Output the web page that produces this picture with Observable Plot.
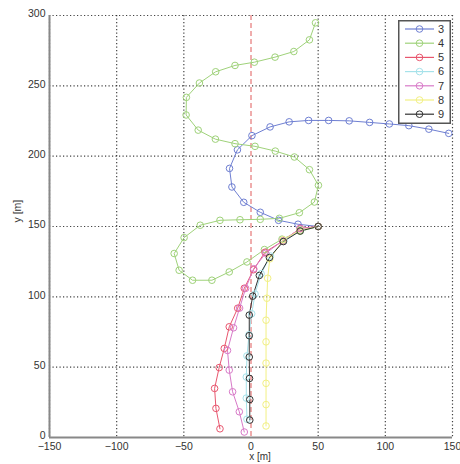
<!DOCTYPE html>
<html>
<head>
<meta charset="utf-8">
<script src="https://cdn.jsdelivr.net/npm/d3@7"></script>
<script src="https://cdn.jsdelivr.net/npm/@observablehq/plot@0.6"></script>
<style>
  html, body { margin: 0; padding: 0; background: #fff; }
  #wrap { position: relative; width: 460px; height: 464px; font-family: "Liberation Sans", Arial, sans-serif; }
  #legend { position: absolute; left: 398px; top: 20px; }
</style>
</head>
<body>
<div id="wrap"><div id="chart"></div><div id="legend"></div></div>
<script>
const seriesNames = ["3", "4", "5", "6", "7", "8", "9"];
const seriesColors = ["#6f7fd2", "#9fd27a", "#e8566e", "#a6e2ea", "#d87ac8", "#f2f083", "#333333"];

const x3 = [50, 35, 20.5, 6.9, -5.4, -14.2, -16, -10.1, 0.7, 14.2, 28.4, 42.9, 57.8, 73.1, 88.3, 103, 117.5, 132.4, 147.2];
const y3 = [150, 151.6, 154.4, 160.1, 167.2, 178.1, 191.3, 204.5, 214.6, 220.8, 224.4, 225.4, 225.4, 225.1, 224, 222.9, 221.7, 219.2, 216.2];

const x4 = [50, 36.6, 23.1, 10, -3, -16.2, -29.1, -43.5, -53.5, -57.2, -49.8, -37.8, -23.1, -8.2, 6.9, 21.1, 36, 47.2, 50.2, 43.5, 32.3, 18.1, 3, -11.9, -26.5, -39.3, -48.3, -48.1, -38.4, -26.3, -11.9, 2.5, 17.9, 31.9, 43.5, 48];
const y4 = [150, 146.6, 141, 133.6, 124.8, 117.7, 111.8, 111.8, 118.9, 130.8, 142.1, 150.9, 154.4, 154.8, 155.1, 155.8, 159.8, 167.4, 179.3, 190.4, 199.4, 203.6, 207, 208.9, 212.1, 218.5, 229.3, 241.8, 252, 260, 264.5, 266.8, 270.4, 274.4, 282.7, 294.8];

const x5 = [50, 36.6, 23.7, 10.4, 1.9, -5, -9.9, -16.2, -19.9, -23.7, -27.1, -26.1, -23.1];
const y5 = [150, 148.7, 139.7, 131.7, 119.3, 106.1, 91.9, 78.7, 63.3, 49.7, 34.9, 20.7, 6.2];

const x6 = [50, 37, 24.5, 14.5, 7.5, 3, 0.5, -1.5, -3, -3.5, -3.5, -3];
const y6 = [150, 147.5, 140, 129, 116.5, 102, 88, 73, 58, 43, 28, 13];

const x7 = [50, 36.6, 23.7, 11, 2, -4, -8.5, -13, -17.5, -16.2, -13.7, -8.7, -5];
const y7 = [150, 148.5, 140, 131, 120, 106, 92, 78, 61.9, 47.9, 32.5, 18.3, 3.9];

const x8 = [50, 36.6, 24, 14, 12.4, 11.8, 11.2, 11.2, 11.2, 11.2, 11.2, 11.2];
const y8 = [150, 147.5, 140.5, 127, 113.2, 99, 83.4, 68, 52.9, 38.5, 23.4, 8.2];

const x9 = [50, 36.6, 24.1, 13.7, 6.2, 1.3, -1.3, -1.3, -1.3, -1.1, -0.9, -0.9];
const y9 = [150, 146.8, 139.3, 127.9, 115.2, 100.5, 87, 72.4, 57.2, 42, 27, 12.4];

const xTicks = [-150, -100, -50, 0, 50, 100, 150];
const yTicks = [0, 50, 100, 150, 200, 250, 300];

const xs = [x3, x4, x5, x6, x7, x8, x9];
const ys = [y3, y4, y5, y6, y7, y8, y9];
const data = [];
seriesNames.forEach((s, i) => {
  xs[i].forEach((xv, j) => data.push({series: s, x: xv, y: ys[i][j]}));
});

const color = {domain: seriesNames, range: seriesColors};

const chart = Plot.plot({
  width: 460,
  height: 464,
  marginLeft: 49,
  marginRight: 8,
  marginTop: 15,
  marginBottom: 27,
  style: {fontFamily: "Liberation Sans, Arial, sans-serif", fontSize: "11px", color: "#333", background: "#fff", overflow: "visible"},
  x: {domain: [-150, 150]},
  y: {domain: [0, 300]},
  color: color,
  marks: [
    Plot.gridX(xTicks.filter(d => d !== 0), {stroke: "#222", strokeOpacity: 0.85, strokeDasharray: "1.2,2.3", strokeWidth: 1.2}),
    Plot.gridY(yTicks, {stroke: "#222", strokeOpacity: 0.85, strokeDasharray: "1.2,2.3", strokeWidth: 1.2}),
    Plot.ruleX([0], {stroke: "#e05a5a", strokeDasharray: "5,3", strokeWidth: 1}),
    Plot.ruleX([-150], {stroke: "#888", strokeWidth: 2}),
    Plot.ruleY([0], {stroke: "#888", strokeWidth: 2}),
    Plot.axisX(xTicks, {tickSize: 0, tickPadding: 5, label: null, fontSize: 10.5, fill: "#333"}),
    Plot.axisY(yTicks, {tickSize: 0, tickPadding: 4, dy: -1.5, label: null, fontSize: 10.5, fill: "#333"}),
    Plot.text(["x [m]"], {frameAnchor: "bottom", dy: 22, dx: 9, fontSize: 10, fill: "#333"}),
    Plot.text(["y [m]"], {frameAnchor: "left", dx: -32, dy: -4, rotate: -90, fontSize: 10.5, fill: "#333"}),
    Plot.line(data, {x: "x", y: "y", z: "series", stroke: "series", strokeWidth: 1}),
    Plot.dot(data, {x: "x", y: "y", stroke: "series", r: 3.3, fill: "none", strokeWidth: 1})
  ]
});
document.getElementById("chart").appendChild(chart);

// legend overlay
const lw = 53, lh = 104, rowH = 14.2;
const leg = d3.select("#legend").append("svg").attr("width", lw).attr("height", lh)
  .style("font-family", "Liberation Sans, Arial, sans-serif");
leg.append("rect").attr("x", 0.75).attr("y", 0.75).attr("width", lw - 1.5).attr("height", lh - 1.5)
  .attr("fill", "#fff").attr("stroke", "#555").attr("stroke-width", 1.5);
const rows = leg.selectAll("g").data(seriesNames).join("g")
  .attr("transform", (d, i) => `translate(0, ${9 + i * rowH})`);
rows.append("line").attr("x1", 7).attr("x2", 36).attr("y1", 0).attr("y2", 0)
  .attr("stroke", (d, i) => seriesColors[i]).attr("stroke-width", 1.2);
rows.append("circle").attr("cx", 21.5).attr("cy", 0).attr("r", 3.3).attr("fill", "none")
  .attr("stroke", (d, i) => seriesColors[i]).attr("stroke-width", 1);
rows.append("text").attr("x", 40).attr("y", 0).attr("dy", "0.35em").attr("font-size", 11)
  .attr("fill", "#333").text(d => d);
</script>
</body>
</html>
